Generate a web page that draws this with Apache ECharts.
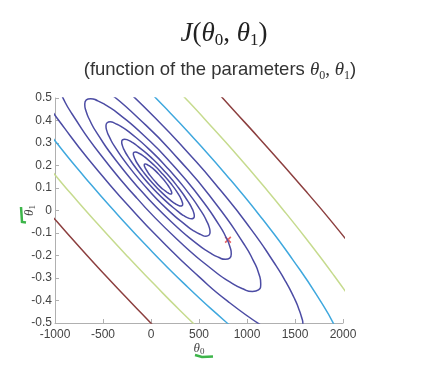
<!DOCTYPE html>
<html><head><meta charset="utf-8">
<script src="https://cdn.jsdelivr.net/npm/echarts@6/dist/echarts.min.js"></script>
<style>html,body{margin:0;padding:0;background:#fff}#c{width:421px;height:374px}</style>
</head><body><div id="c"></div>
<script>
// axis ranges / ticks
const xRange = [-1000, 2000, 500];
const yRange = [-0.5, 0.5, 0.1];

// closed contour rings (theta0, theta1), innermost first
const ring1 = [[44,0.129],[-8,0.155],[-46,0.179],[-59,0.188],[-67,0.196],[-70,0.202],[-67,0.206],[-58,0.207],[-45,0.205],[-27,0.201],[-5,0.195],[47,0.176],[102,0.151],[154,0.125],[192,0.102],[205,0.092],[213,0.084],[216,0.078],[213,0.074],[204,0.073],[191,0.075],[173,0.079],[151,0.086],[99,0.104],[44,0.129]];
const ring2 = [[20,0.120],[-72,0.167],[-142,0.209],[-165,0.227],[-179,0.242],[-184,0.252],[-178,0.258],[-163,0.260],[-139,0.257],[-107,0.250],[-67,0.238],[26,0.204],[126,0.160],[218,0.114],[288,0.071],[311,0.053],[325,0.038],[330,0.028],[324,0.022],[309,0.020],[285,0.023],[253,0.030],[213,0.042],[121,0.076],[20,0.120]];
const ring3 = [[-5,0.110],[-140,0.179],[-243,0.242],[-278,0.268],[-299,0.290],[-305,0.305],[-297,0.314],[-275,0.317],[-239,0.313],[-191,0.302],[-134,0.284],[3,0.235],[151,0.170],[286,0.101],[389,0.038],[424,0.012],[445,-0.010],[451,-0.025],[443,-0.034],[421,-0.037],[385,-0.033],[337,-0.022],[280,-0.004],[143,0.046],[-5,0.110]];
const ring4 = [[-38,0.097],[-233,0.196],[-381,0.286],[-430,0.324],[-460,0.354],[-469,0.377],[-457,0.390],[-426,0.394],[-375,0.387],[-306,0.372],[-223,0.347],[-27,0.275],[184,0.183],[379,0.084],[527,-0.006],[576,-0.044],[606,-0.074],[615,-0.097],[603,-0.110],[572,-0.114],[521,-0.107],[452,-0.092],[369,-0.067],[173,0.004],[-38,0.097]];
const ring5 = [[-84,0.079],[-358,0.219],[-566,0.346],[-635,0.399],[-677,0.442],[-690,0.473],[-674,0.492],[-629,0.497],[-557,0.488],[-461,0.466],[-344,0.432],[-68,0.331],[230,0.201],[504,0.061],[712,-0.066],[781,-0.119],[823,-0.162],[836,-0.193],[820,-0.212],[775,-0.217],[703,-0.208],[607,-0.186],[490,-0.152],[214,-0.051],[-84,0.079]];
const ring6 = [[-147,0.055],[-531,0.251],[-822,0.429],[-920,0.503],[-979,0.563],[-997,0.607],[-974,0.633],[-911,0.640],[-810,0.628],[-675,0.597],[-512,0.549],[-125,0.408],[293,0.225],[677,0.029],[968,-0.149],[1066,-0.223],[1125,-0.283],[1143,-0.327],[1120,-0.353],[1057,-0.360],[956,-0.348],[821,-0.317],[658,-0.269],[271,-0.128],[-147,0.055]];

// open contour pieces (lower-left side / upper-right side)
const purpleLL = [[-1346,0.669],[-1135,0.511],[-897,0.364],[-576,0.189],[-235,0.021],[122,-0.140],[499,-0.294],[819,-0.410],[1167,-0.515]];
const purpleUR = [[-353,0.574],[24,0.420],[381,0.259],[722,0.091],[1043,-0.084],[1281,-0.231],[1392,-0.308],[1492,-0.389],[1535,-0.432],[1571,-0.478],[1582,-0.504],[1553,-0.557]];
const cyanLL = [[-1328,0.497],[-1015,0.318],[-686,0.146],[-343,-0.021],[12,-0.183],[381,-0.340],[766,-0.490],[926,-0.548]];
const cyanUR = [[-620,0.770],[-235,0.620],[134,0.463],[489,0.301],[832,0.134],[1161,-0.038],[1474,-0.217],[1766,-0.403],[1924,-0.522],[2058,-0.649]];
const greenLL = [[-1509,0.427],[-1018,0.168],[-761,0.039],[-505,-0.083],[-245,-0.204],[29,-0.326],[300,-0.443],[585,-0.560]];
const greenUR = [[117,0.606],[391,0.484],[651,0.363],[907,0.241],[1164,0.113],[1409,-0.014],[1655,-0.147],[1906,-0.289],[2118,-0.417]];
const brownLL = [[-1746,0.335],[-1244,0.080],[-985,-0.047],[-729,-0.170],[-469,-0.291],[-198,-0.413],[70,-0.532],[348,-0.652]];
const brownUR = [[330,0.693],[595,0.571],[852,0.450],[1115,0.327],[1380,0.200],[1635,0.075],[1892,-0.055],[2151,-0.194]];

// marked point
const markPoint = [[802,-0.13]];

const PURPLE = '#4c4ca4', CYAN = '#3fa8de', YG = '#c6db8e', BROWN = '#8c3f3f';
const contours = [
  [ring1, PURPLE],[ring2, PURPLE],[ring3, PURPLE],[ring4, PURPLE],[ring5, PURPLE],[ring6, PURPLE],
  [purpleLL, PURPLE],[purpleUR, PURPLE],
  [cyanLL, CYAN],[cyanUR, CYAN],
  [greenLL, YG],[greenUR, YG],
  [brownLL, BROWN],[brownUR, BROWN]
];

const series = contours.map(([d, c]) => ({
  type: 'line', data: d, smooth: 0.6, symbol: 'none', clip: true, silent: true,
  lineStyle: {color: c, width: 1.5}
}));
series.push({
  type: 'scatter', data: markPoint, silent: true,
  symbol: 'path://M4,0H6V4H10V6H6V10H4V6H0V4H4Z', symbolRotate: 45, symbolSize: 8,
  itemStyle: {color: '#e23a3a'}
});

const serif = 'Liberation Serif';
const nameRich = {
  i: {fontFamily: serif, fontStyle: 'italic', fontSize: 13, lineHeight: 15, color: '#444'},
  s: {fontFamily: serif, fontSize: 9, lineHeight: 9, verticalAlign: 'bottom', color: '#444'}
};
const chart = echarts.init(document.getElementById('c'));
chart.setOption({
  animation: false,
  backgroundColor: '#fff',
  grid: {left: 55, right: 78, top: 98, bottom: 51},
  xAxis: {
    type: 'value', min: xRange[0], max: xRange[1], interval: xRange[2],
    axisLine: {onZero: false, lineStyle: {color: '#b0b0b0', width: 1}},
    axisTick: {inside: true, length: 4, lineStyle: {color: '#b0b0b0'}},
    splitLine: {show: false},
    axisLabel: {color: '#444', fontSize: 12, fontFamily: 'Liberation Sans', margin: 6,
      formatter: v => String(v)},
    name: '{i|θ}{s|0}', nameLocation: 'middle', nameGap: 18, nameMoveOverlap: false,
    nameTextStyle: {rich: nameRich}
  },
  yAxis: {
    type: 'value', min: yRange[0], max: yRange[1], interval: yRange[2],
    axisLine: {show: true, onZero: false, lineStyle: {color: '#b0b0b0', width: 1}},
    axisTick: {show: true, inside: true, length: 4, lineStyle: {color: '#b0b0b0'}},
    splitLine: {show: false},
    axisLabel: {color: '#444', fontSize: 12, fontFamily: 'Liberation Sans', margin: 3,
      formatter: v => String(Math.round(v * 10) / 10)},
    name: '{i|θ}{s|1}', nameLocation: 'middle', nameGap: 18, nameRotate: 90, nameMoveOverlap: false,
    nameTextStyle: {rich: nameRich}
  },
  graphic: [
    {type: 'text', x: 224, y: 34, silent: true, style: {
      text: '{i|J}{r|(}{i|θ}{s|0}{r|, }{i|θ}{s|1}{r|)}',
      align: 'center', verticalAlign: 'middle',
      rich: {
        i: {fontFamily: serif, fontStyle: 'italic', fontSize: 27, lineHeight: 31, fill: '#222'},
        r: {fontFamily: serif, fontSize: 27, lineHeight: 31, fill: '#222'},
        s: {fontFamily: serif, fontSize: 17, lineHeight: 17, verticalAlign: 'bottom', fill: '#222'}
      }
    }},
    {type: 'text', x: 220, y: 70, silent: true, style: {
      text: '{t|(function of the parameters }{i|θ}{s|0}{r|, }{i|θ}{s|1}{t|)}',
      align: 'center', verticalAlign: 'middle',
      rich: {
        t: {fontFamily: 'Liberation Sans', fontSize: 18.5, lineHeight: 23, fill: '#333'},
        i: {fontFamily: serif, fontStyle: 'italic', fontSize: 19, lineHeight: 23, fill: '#333'},
        r: {fontFamily: serif, fontSize: 19, lineHeight: 23, fill: '#333'},
        s: {fontFamily: serif, fontSize: 12, lineHeight: 14, verticalAlign: 'bottom', fill: '#333'}
      }
    }},
    {type: 'polyline', silent: true, shape: {points: [[21,207],[21.5,214],[22,222],[26,222.5]]},
      style: {stroke: '#3db54a', lineWidth: 2.5, fill: null}},
    {type: 'polyline', silent: true, shape: {points: [[195,355],[202,357],[213,356.5]]},
      style: {stroke: '#3db54a', lineWidth: 2.5, fill: null}}
  ],
  series: series
});
</script>
</body></html>
